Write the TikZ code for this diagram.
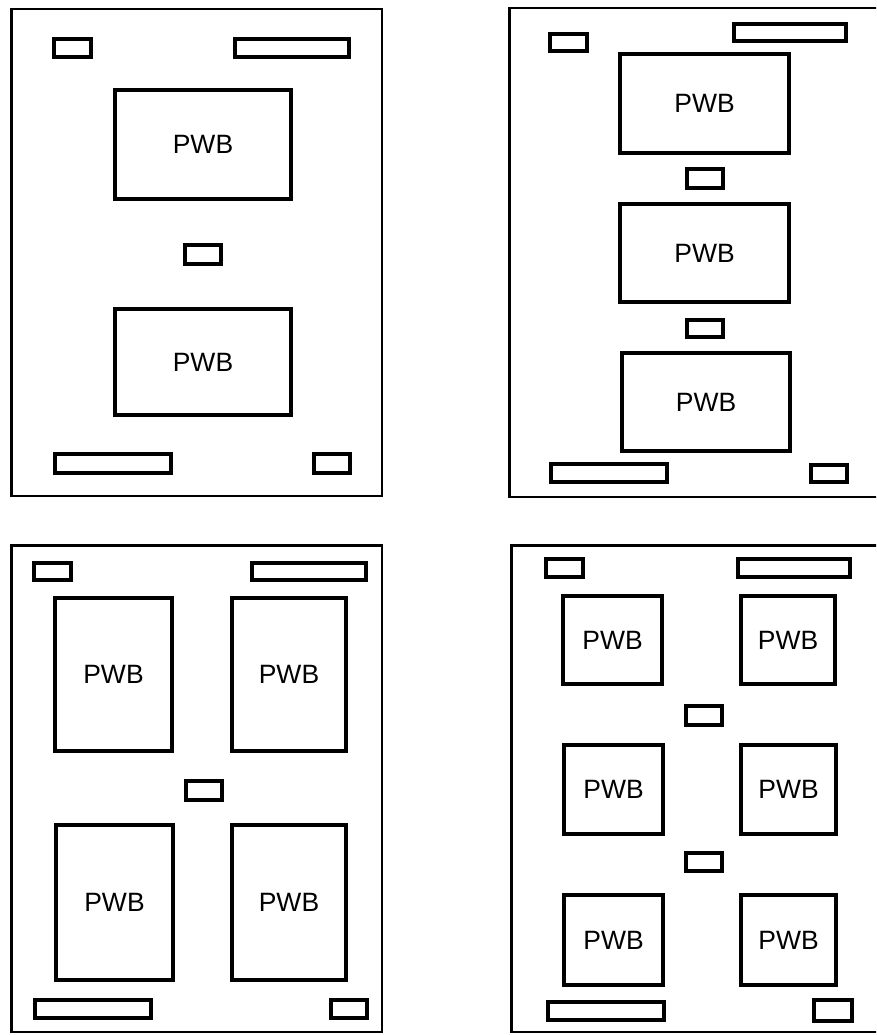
\documentclass[tikz,border=0pt]{standalone}
\usepackage{fontspec}
\setmainfont{Liberation Sans}
\newcommand\bx[6]{\node[box, minimum width={#4-#2-4}, minimum height={#5-#3-4}] (#1) at ({(#2+#4)/2},{(#3+#5)/2}) {#6};}
\newcommand\fr[5]{\node[frame, minimum width={#4-#2-2.5}, minimum height={#5-#3-2.5}] (#1) at ({(#2+#4)/2},{(#3+#5)/2}) {};}
\begin{document}
\begin{tikzpicture}[x=1pt,y=-1pt,
  box/.style={draw, line width=4pt, rectangle, inner sep=0pt, outer sep=0pt, font=\fontsize{26.5}{30}\selectfont},
  frame/.style={draw, line width=2.5pt, rectangle, inner sep=0pt, outer sep=0pt}]
\useasboundingbox[fill=white] (0,0) rectangle (876,1035);
\clip (0,0) rectangle (876,1035);
% Panel 1
\fr{f1}{10}{8}{383}{497}
\bx{a1}{52}{37}{93}{59}{}
\bx{a2}{233}{37}{351}{59}{}
\bx{a3}{113}{88}{293}{201}{PWB}
\bx{a4}{183}{243}{223}{266}{}
\bx{a5}{113}{307}{293}{417}{PWB}
\bx{a6}{53}{452}{173}{475}{}
\bx{a7}{312}{452}{352}{475}{}
% Panel 2
\fr{f2}{508}{7}{890}{498}
\bx{b1}{548}{32}{589}{53}{}
\bx{b2}{732}{22}{848}{43}{}
\bx{b3}{618}{52}{791}{155}{PWB}
\bx{b4}{685}{167}{725}{190}{}
\bx{b5}{618}{202}{791}{304}{PWB}
\bx{b6}{685}{318}{725}{339}{}
\bx{b7}{620}{351}{792}{453}{PWB}
\bx{b8}{549}{462}{669}{484}{}
\bx{b9}{809}{463}{849}{484}{}
% Panel 3
\fr{f3}{10}{544}{383}{1033}
\bx{c1}{32}{561}{73}{582}{}
\bx{c2}{250}{561}{368}{582}{}
\bx{c3}{53}{596}{174}{753}{PWB}
\bx{c4}{230}{596}{348}{753}{PWB}
\bx{c5}{184}{779}{224}{802}{}
\bx{c6}{54}{823}{175}{982}{PWB}
\bx{c7}{230}{823}{348}{982}{PWB}
\bx{c8}{33}{998}{153}{1020}{}
\bx{c9}{329}{998}{369}{1020}{}
% Panel 4
\fr{f4}{510}{544}{890}{1033}
\bx{d1}{544}{557}{585}{579}{}
\bx{d2}{736}{557}{852}{579}{}
\bx{d3}{561}{594}{664}{686}{PWB}
\bx{d4}{739}{594}{837}{686}{PWB}
\bx{d5}{684}{704}{724}{727}{}
\bx{d6}{562}{743}{665}{836}{PWB}
\bx{d7}{739}{743}{838}{836}{PWB}
\bx{d8}{684}{851}{724}{873}{}
\bx{d9}{562}{893}{665}{987}{PWB}
\bx{d10}{739}{893}{838}{987}{PWB}
\bx{d11}{546}{1000}{666}{1022}{}
\bx{d12}{812}{998}{854}{1023}{}
\end{tikzpicture}
\end{document}
